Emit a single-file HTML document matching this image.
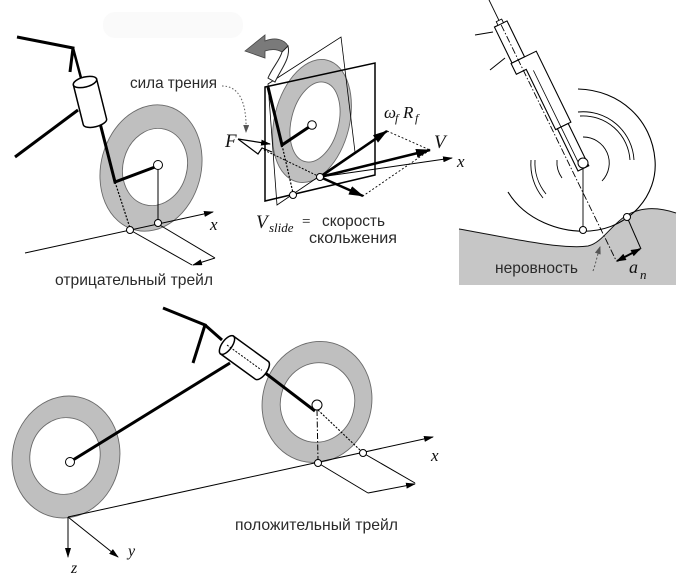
<!DOCTYPE html>
<html><head><meta charset="utf-8">
<style>
html,body{margin:0;padding:0;background:#fff;}
svg{display:block;}
.s{font-family:"Liberation Sans","DejaVu Sans",sans-serif;fill:#2a2a2a;font-size:16px;}
.m{font-family:"Liberation Serif","DejaVu Serif",serif;font-style:italic;fill:#111;}
.tire{fill:#bfbfbf;stroke:#6a6a6a;stroke-width:0.9;}
.hole{fill:#fff;stroke:#6a6a6a;stroke-width:0.9;}
.pt{fill:#fff;stroke:#000;stroke-width:1;}
</style></head><body>
<svg width="686" height="584" viewBox="0 0 686 584" xmlns="http://www.w3.org/2000/svg">
<defs>
<marker id="a" viewBox="0 0 10 6" refX="9" refY="3" markerWidth="10" markerHeight="6" orient="auto" markerUnits="userSpaceOnUse"><path d="M0,0L10,3L0,6z" fill="#000"/></marker>
<marker id="b" viewBox="0 0 15 9" refX="14" refY="4.5" markerWidth="15" markerHeight="9" orient="auto" markerUnits="userSpaceOnUse"><path d="M0,0L15,4.5L0,9z" fill="#000"/></marker>
<marker id="c" viewBox="0 0 10 7" refX="9" refY="3.5" markerWidth="10" markerHeight="7" orient="auto-start-reverse" markerUnits="userSpaceOnUse"><path d="M0,0L10,3.5L0,7z" fill="#000"/></marker>
<marker id="g" viewBox="0 0 8 6" refX="7" refY="3" markerWidth="8" markerHeight="6" orient="auto" markerUnits="userSpaceOnUse"><path d="M0,0L8,3L0,6z" fill="#555"/></marker>
</defs>

<!-- faint background patches -->
<rect x="103" y="12" width="140" height="26" rx="12" fill="#fafafa"/>

<!-- ================= TOP-LEFT ================= -->
<ellipse cx="151" cy="168" rx="50" ry="64" transform="rotate(15 151 168)" class="tire"/>
<ellipse cx="155" cy="167" rx="32" ry="39" transform="rotate(15 155 167)" class="hole"/>
<line x1="25" y1="253" x2="213" y2="212" stroke="#000" stroke-width="1" marker-end="url(#a)"/>
<line x1="130" y1="230" x2="192" y2="265" stroke="#000" stroke-width="1"/>
<line x1="158" y1="224" x2="215" y2="258" stroke="#000" stroke-width="1"/>
<line x1="215" y1="258" x2="193" y2="265" stroke="#000" stroke-width="1" marker-end="url(#a)"/>
<line x1="158" y1="169" x2="158" y2="220" stroke="#000" stroke-width="1"/>
<line x1="115" y1="182" x2="130" y2="228" stroke="#000" stroke-width="1.2" stroke-dasharray="2,1.5"/>
<polyline points="17,37 73,48 70,72" fill="none" stroke="#000" stroke-width="3"/>
<line x1="73" y1="48" x2="81" y2="78" stroke="#000" stroke-width="2.5"/>
<line x1="78" y1="110" x2="15" y2="157" stroke="#000" stroke-width="3"/>
<polyline points="100,123 115,182 155,167" fill="none" stroke="#000" stroke-width="3"/>
<g transform="translate(85,82) rotate(-14)">
<path d="M-12,0 L-12,41 A12,5 0 0 0 12,41 L12,0 Z" fill="#fff" stroke="#000" stroke-width="1.5"/>
<ellipse cx="0" cy="0" rx="12" ry="5" fill="#fff" stroke="#000" stroke-width="1.5"/>
</g>
<circle cx="158" cy="165" r="4.5" class="pt" stroke-width="1.3"/>
<circle cx="130" cy="230" r="3.5" class="pt"/>
<circle cx="158" cy="223" r="3.5" class="pt"/>
<text x="130" y="88" class="s" textLength="87" lengthAdjust="spacingAndGlyphs">сила трения</text>
<text x="210" y="230" class="m" font-size="17">x</text>
<text x="55" y="285" class="s" textLength="158" lengthAdjust="spacingAndGlyphs">отрицательный трейл</text>

<!-- ================= TOP-MIDDLE ================= -->
<ellipse cx="312" cy="121" rx="37.5" ry="62.7" transform="rotate(14 312 121)" class="tire"/>
<ellipse cx="315" cy="122" rx="23.7" ry="40.8" transform="rotate(14 315 122)" class="hole"/>
<polygon points="268,84 341,37 355,152 277,205" fill="none" stroke="#000" stroke-width="0.8"/>
<polygon points="265,87 375,63 375,175 265,201" fill="none" stroke="#000" stroke-width="1.5"/>
<!-- curly arrow -->
<path d="M245,51 L265,35 L265,41 C275,37 284,39 288,46 L282,52 C277,49 271,49 265,51 L265,58 Z" fill="#7a7a7a" stroke="#444" stroke-width="0.8"/>
<path d="M288,46 C291,58 281,69 275,82 L268,78 C272,68 280,60 282,52 Z" fill="#fff" stroke="#222" stroke-width="1"/>
<!-- dotted friction pointer -->
<path d="M222,86 C238,86 247,100 246,132" fill="none" stroke="#666" stroke-width="1.1" stroke-dasharray="1.5,2" marker-end="url(#g)"/>
<!-- fork -->
<polyline points="268,87 282,145 309,127" fill="none" stroke="#000" stroke-width="3"/>
<circle cx="312" cy="125" r="4.3" class="pt" stroke-width="1.3"/>
<line x1="282" y1="145" x2="293" y2="193" stroke="#000" stroke-width="1.2" stroke-dasharray="2,1.5"/>
<line x1="264" y1="150" x2="320" y2="177" stroke="#000" stroke-width="1" stroke-dasharray="2,1.5"/>
<!-- F arrow -->
<line x1="238" y1="139" x2="270" y2="144" stroke="#000" stroke-width="1.2" marker-end="url(#a)"/>
<polyline points="238,139 258,154 262,148 272,152" fill="none" stroke="#000" stroke-width="1.2"/>
<!-- vectors -->
<line x1="320" y1="177" x2="452" y2="158" stroke="#000" stroke-width="1" marker-end="url(#a)"/>
<line x1="387" y1="131" x2="430" y2="150" stroke="#000" stroke-width="0.9" stroke-dasharray="2,2"/>
<line x1="430" y1="150" x2="363" y2="196" stroke="#000" stroke-width="0.9" stroke-dasharray="2,2"/>
<line x1="320" y1="177" x2="387" y2="131" stroke="#000" stroke-width="2.5" marker-end="url(#b)"/>
<line x1="320" y1="177" x2="430" y2="150" stroke="#000" stroke-width="2.5" marker-end="url(#b)"/>
<line x1="320" y1="177" x2="363" y2="196" stroke="#000" stroke-width="2.5" marker-end="url(#b)"/>
<circle cx="293" cy="195" r="3.5" class="pt"/>
<circle cx="320" cy="177" r="3.5" class="pt"/>
<text x="225" y="147" class="m" font-size="19">F</text>
<text x="384" y="118" class="m" font-size="17">ω</text>
<text x="395" y="122" class="m" font-size="12">f</text>
<text x="403" y="118" class="m" font-size="17">R</text>
<text x="415" y="122" class="m" font-size="12">f</text>
<text x="434" y="148" class="m" font-size="19">V</text>
<text x="457" y="167" class="m" font-size="17">x</text>
<text x="256" y="228" class="m" font-size="19">V</text>
<text x="269" y="232" class="m" font-size="13">slide</text>
<text x="302" y="226" font-family="Liberation Serif,serif" font-size="15" fill="#111">=</text>
<text x="322" y="226" class="s" textLength="63" lengthAdjust="spacingAndGlyphs">скорость</text>
<text x="309" y="243" class="s" textLength="88" lengthAdjust="spacingAndGlyphs">скольжения</text>

<!-- ================= TOP-RIGHT ================= -->
<path d="M459,229 C500,236 560,250 588,246 C602,243 612,224 627,215 C640,208 655,206 676,213 L676,285 L459,285 Z" fill="#c6c6c6"/>
<path d="M459,229 C500,236 560,250 588,246 C602,243 612,224 627,215 C640,208 655,206 676,213" fill="none" stroke="#111" stroke-width="1"/>
<!-- big wheel arc -->
<path d="M508,192 C525,220 560,233 590,231 C630,228 658,195 655,160 C652,120 620,90 578,89" fill="none" stroke="#000" stroke-width="1.1"/>
<!-- rim arcs -->
<path d="M578,112 A51,51 0 0 1 634,160" fill="none" stroke="#000" stroke-width="0.9"/>
<path d="M580,116 A47,47 0 0 1 630,160" fill="none" stroke="#000" stroke-width="0.9"/>
<path d="M531,160 A53,53 0 0 0 543,198" fill="none" stroke="#000" stroke-width="0.9"/>
<path d="M535,160 A49,49 0 0 0 546,194" fill="none" stroke="#000" stroke-width="0.9"/>
<path d="M583,137 A26,26 0 0 1 602,181" fill="none" stroke="#000" stroke-width="0.9"/>
<path d="M557,160 A27,27 0 0 0 562,178" fill="none" stroke="#000" stroke-width="0.9"/>
<!-- fork -->
<line x1="475" y1="35" x2="493" y2="32" stroke="#000" stroke-width="1"/>
<line x1="490" y1="70" x2="505" y2="58" stroke="#000" stroke-width="1"/>
<g transform="translate(583,163) rotate(-26)" stroke="#000" fill="#fff">
<line x1="-13" y1="-190" x2="-13" y2="-160" stroke-width="0.9"/>
<rect x="-20" y="-161" width="14" height="40" stroke-width="1.1"/>
<rect x="-16" y="-165" width="6" height="4" stroke-width="0.9"/>
<polygon points="-21,-121 7,-121 7,-42 -10,-42 -10,-109 -21,-109" stroke-width="1.1"/>
<rect x="-8" y="-42" width="12" height="47" stroke-width="1.1"/>
<line x1="-4" y1="-105" x2="-4" y2="-2" stroke-width="0.8"/>
<line x1="-13" y1="-160" x2="-13" y2="103" stroke-width="0.9" stroke-dasharray="7,2,1.5,2" fill="none"/>
</g>
<line x1="583" y1="168" x2="583" y2="227" stroke="#000" stroke-width="0.9"/>
<circle cx="583" cy="163" r="5" class="pt"/>
<line x1="627" y1="217" x2="641" y2="249" stroke="#000" stroke-width="1"/>
<line x1="617" y1="261" x2="640" y2="249" stroke="#000" stroke-width="2" marker-start="url(#c)" marker-end="url(#c)"/>
<circle cx="583" cy="230" r="3.5" class="pt"/>
<circle cx="627" cy="217" r="3.5" class="pt"/>
<path d="M593,271 C596,263 597,256 600,247" fill="none" stroke="#555" stroke-width="1" stroke-dasharray="2,2" marker-end="url(#g)"/>
<text x="495" y="273" class="s" textLength="83" lengthAdjust="spacingAndGlyphs">неровность</text>
<text x="629" y="273" class="m" font-size="18">a</text>
<text x="640" y="279" class="m" font-size="13">n</text>

<!-- ================= BOTTOM ================= -->
<ellipse cx="66" cy="457" rx="53.6" ry="61.3" transform="rotate(12 66 457)" class="tire"/>
<ellipse cx="65" cy="456" rx="35" ry="38.5" transform="rotate(12 65 456)" class="hole"/>
<ellipse cx="317" cy="402" rx="54.5" ry="61" transform="rotate(15 317 402)" class="tire"/>
<ellipse cx="317.5" cy="402.5" rx="37" ry="40" transform="rotate(15 317.5 402.5)" class="hole"/>
<line x1="68" y1="517" x2="433" y2="437" stroke="#000" stroke-width="1" marker-end="url(#a)"/>
<line x1="68" y1="517" x2="68" y2="557" stroke="#000" stroke-width="1" marker-end="url(#a)"/>
<line x1="68" y1="517" x2="118" y2="557" stroke="#000" stroke-width="1" marker-end="url(#a)"/>
<line x1="318" y1="463" x2="368" y2="493" stroke="#000" stroke-width="1"/>
<line x1="363" y1="453" x2="415" y2="483" stroke="#000" stroke-width="1"/>
<line x1="368" y1="493" x2="415" y2="484" stroke="#000" stroke-width="1" marker-end="url(#a)"/>
<line x1="317" y1="410" x2="318" y2="460" stroke="#000" stroke-width="1" stroke-dasharray="6,2,1.5,2"/>
<line x1="318" y1="410" x2="361" y2="451" stroke="#000" stroke-width="1.1" stroke-dasharray="2,1.5"/>
<line x1="73" y1="460" x2="230" y2="363" stroke="#000" stroke-width="3"/>
<polyline points="163,308 205,325 193,363" fill="none" stroke="#000" stroke-width="3"/>
<line x1="205" y1="325" x2="222" y2="340" stroke="#000" stroke-width="3"/>
<line x1="260" y1="369" x2="315" y2="411" stroke="#000" stroke-width="3"/>
<g transform="translate(227,345) rotate(36)">
<path d="M0,-11 L43,-11 A5,11 0 0 1 43,11 L0,11 Z" fill="#fff" stroke="#000" stroke-width="1.5"/>
<ellipse cx="0" cy="0" rx="5" ry="11" fill="#fff" stroke="#000" stroke-width="1.5"/>
<line x1="0" y1="0" x2="43" y2="0" stroke="#000" stroke-width="1" stroke-dasharray="2,1.5"/>
</g>
<circle cx="70" cy="462" r="4.5" class="pt" stroke-width="1.2"/>
<circle cx="317" cy="405" r="5" class="pt" stroke-width="1.2"/>
<circle cx="318" cy="463" r="3.5" class="pt"/>
<circle cx="363" cy="453" r="3.5" class="pt"/>
<text x="431" y="461" class="m" font-size="17">x</text>
<text x="128" y="556" class="m" font-size="16">y</text>
<text x="71" y="573" class="m" font-size="16">z</text>
<text x="235" y="530" class="s" textLength="163" lengthAdjust="spacingAndGlyphs">положительный трейл</text>
</svg>
</body></html>
